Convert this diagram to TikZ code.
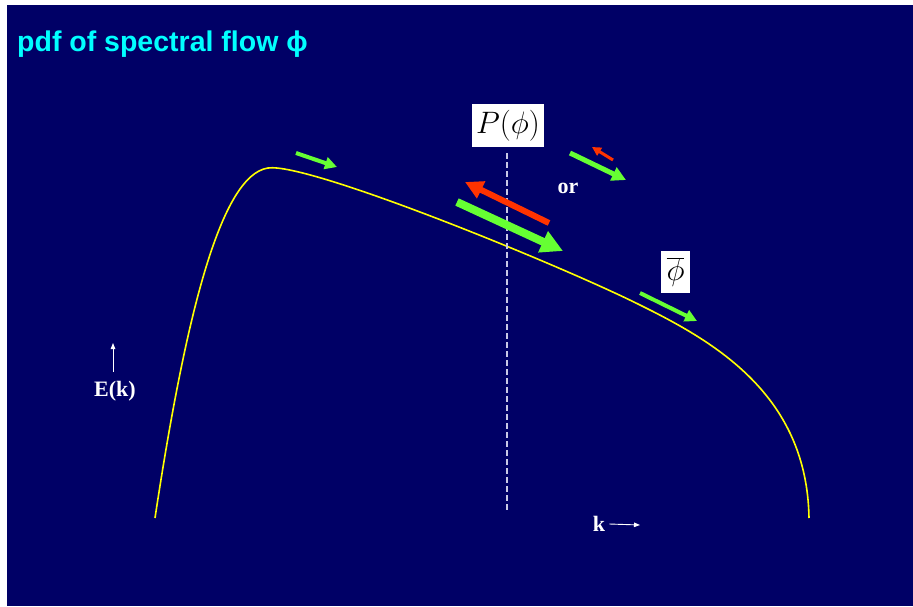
\RequirePackage{fix-cm}
\documentclass[tikz,border=0pt]{standalone}
\usepackage{fontspec}
\setmainfont{Liberation Serif}
\newfontfamily\titlefont{Liberation Sans}
\definecolor{slideNavy}{HTML}{000066}
\definecolor{titleCyan}{HTML}{00FFFF}
\definecolor{flowGreen}{HTML}{66FF33}
\definecolor{flowRed}{HTML}{FF3300}
\definecolor{curveYellow}{HTML}{FFFF00}
\definecolor{cutGray}{HTML}{C8C8E6}
\usetikzlibrary{arrows.meta}

\begin{document}
\begin{tikzpicture}[x=1pt, y=-1pt,
  every node/.style={inner sep=0pt, text=white},
  lbl/.style={font=\fontsize{22}{24}\selectfont\bfseries},
  tag/.style={fill=white, text=black, font=\fontsize{31}{33}\selectfont},
  flow/.style n args={3}{draw=#1, line width=#2, -{Triangle[length=#3, width=#3]}},
  axisarr/.style={draw=white, line width=0.9pt, -{Triangle[length=6pt, width=4.5pt]}},
  cut/.style={draw=cutGray, line width=1.3pt, dash pattern=on 6pt off 3pt},
  spectrum/.style={draw=curveYellow, line width=1.6pt}
]
  \useasboundingbox (0,0) rectangle (913,606);
  \fill[white] (0,0) rectangle (913,606);
  \fill[slideNavy] (7,5) rectangle (913,606);

  \node[anchor=base west, text=titleCyan, font=\titlefont\bfseries\fontsize{28.5}{30}\selectfont] (title) at (17,51) {pdf of spectral flow \symbol{"03D5}};

  \coordinate (kLow) at (155,518);
  \coordinate (kPeak) at (268,168);
  \coordinate (kMid) at (640,305);
  \coordinate (kHigh) at (809,518);
  \draw[spectrum] (kLow) .. controls (185,320) and (220,175) .. (kPeak)
    .. controls (308,162) and (560,265) .. (kMid)
    .. controls (715,342) and (807,395) .. (kHigh);

  \node[tag, minimum width=72pt, minimum height=43pt] (pphi) at (508,125.5) {$P(\phi)$};
  \node[tag, minimum width=29pt, minimum height=42pt] (phibar) at (675.5,272) {$\overline{\phi}$};
  \node[lbl] (orword) at (568,188) {or};
  \node[lbl] (ek) at (115,391) {E(k)};
  \node[lbl] (kx) at (599,524) {k};

  \coordinate (cutTop) at (507,153);
  \coordinate (cutBot) at (507,510);
  \coordinate (eBase) at (113,372);
  \coordinate (eTip) at (113,343);
  \coordinate (kTip) at (640,525);
  \coordinate (gA) at (457,202);
  \coordinate (gB) at (563,251);
  \coordinate (rA) at (549,223);
  \coordinate (rB) at (465,182);
  \coordinate (sgA) at (570,153);
  \coordinate (sgB) at (626,180);
  \coordinate (srA) at (613,160);
  \coordinate (srB) at (592,147);
  \coordinate (mgA) at (640,293);
  \coordinate (mgB) at (697,321);
  \coordinate (lgA) at (296,153);
  \coordinate (lgB) at (337,167);

  \draw[cut] (cutTop) -- (cutBot);
  \draw[axisarr] (eBase) -- (eTip);
  \draw[axisarr] ([xshift=4pt]kx.east) -- (kTip);

  \draw[flow={flowGreen}{8pt}{22pt}] (gA) -- (gB);
  \draw[flow={flowRed}{6pt}{18pt}] (rA) -- (rB);
  \draw[flow={flowGreen}{5pt}{14pt}] (sgA) -- (sgB);
  \draw[flow={flowRed}{3pt}{9pt}] (srA) -- (srB);
  \draw[flow={flowGreen}{4pt}{12pt}] (mgA) -- (mgB);
  \draw[flow={flowGreen}{4pt}{12pt}] (lgA) -- (lgB);
\end{tikzpicture}
\end{document}
